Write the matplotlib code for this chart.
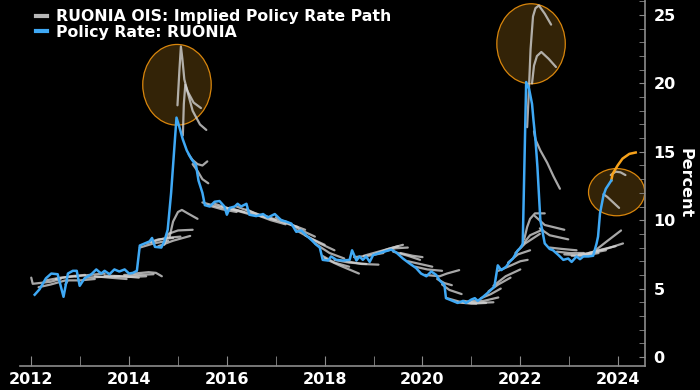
import matplotlib
matplotlib.use("Agg")
import matplotlib.pyplot as plt
from matplotlib.patches import Ellipse
from matplotlib.ticker import MultipleLocator

# Policy rate: RUONIA (decimal years, percent)
policy_year = [
    2012.07, 2012.17, 2012.30, 2012.41, 2012.54, 2012.66, 2012.75, 2012.85, 2012.93, 2012.99,
    2013.09, 2013.23, 2013.33, 2013.43, 2013.50, 2013.60, 2013.70, 2013.80, 2013.91, 2014.00,
    2014.08, 2014.16, 2014.22, 2014.32, 2014.42, 2014.47, 2014.53, 2014.66, 2014.72, 2014.79,
    2014.86, 2014.97, 2015.03, 2015.10, 2015.18, 2015.27, 2015.37, 2015.42, 2015.50, 2015.55,
    2015.65, 2015.75, 2015.85, 2015.95, 2016.00, 2016.06, 2016.16, 2016.22, 2016.29, 2016.40,
    2016.46, 2016.60, 2016.74, 2016.84, 2016.98, 2017.11, 2017.21, 2017.32, 2017.42, 2017.52,
    2017.62, 2017.73, 2017.83, 2017.90, 2017.96, 2018.07, 2018.13, 2018.24, 2018.37, 2018.51,
    2018.56, 2018.65, 2018.71, 2018.78, 2018.85, 2018.92, 2018.99, 2019.12, 2019.26, 2019.36,
    2019.46, 2019.60, 2019.73, 2019.87, 2019.97, 2020.08, 2020.18, 2020.28, 2020.35, 2020.45,
    2020.48, 2020.62, 2020.72, 2020.83, 2020.89, 2021.00, 2021.07, 2021.13, 2021.24, 2021.37,
    2021.47, 2021.54, 2021.61, 2021.71, 2021.78, 2021.85, 2021.95, 2022.02, 2022.05, 2022.12,
    2022.18, 2022.24, 2022.27, 2022.31, 2022.35, 2022.38, 2022.41, 2022.50, 2022.60, 2022.67,
    2022.78, 2022.88, 2022.98, 2023.05, 2023.15, 2023.22, 2023.29, 2023.39, 2023.49, 2023.56,
    2023.59, 2023.63, 2023.70, 2023.75, 2023.86,
]
policy_rate = [
    4.55, 4.95, 5.75, 6.10, 6.05, 4.40, 6.10, 6.30, 6.30, 5.20,
    5.75, 6.05, 6.40, 6.10, 6.30, 6.05, 6.40, 6.25, 6.40, 6.10,
    6.15, 6.30, 8.15, 8.30, 8.45, 8.70, 8.05, 8.00, 8.45, 9.30,
    12.0, 17.5, 16.8, 15.9, 15.1, 14.5, 14.0, 12.9, 12.0, 11.1,
    11.0, 11.35, 11.4, 11.0, 10.4, 10.9, 11.0, 11.2, 11.0, 11.2,
    10.4, 10.3, 10.45, 10.2, 10.45, 10.0, 9.9, 9.75, 9.15, 9.25,
    8.9, 8.55, 8.2, 8.0, 7.1, 7.05, 7.35, 7.1, 7.05, 7.1,
    7.8, 7.05, 7.35, 7.1, 7.35, 6.95, 7.45, 7.6, 7.75, 7.85,
    7.65, 7.2, 6.85, 6.5, 6.1, 5.9, 6.25, 6.0, 5.6, 5.25,
    4.3, 4.1, 3.95, 4.1, 3.95, 4.2, 4.3, 4.1, 4.4, 4.8,
    5.15, 6.7, 6.35, 6.6, 6.95, 7.2, 7.8, 8.05, 8.3, 20.1,
    19.6, 18.5, 17.3, 15.9, 13.9, 12.0, 10.0, 8.3, 7.9, 7.8,
    7.45, 7.1, 7.2, 6.95, 7.35, 7.15, 7.35, 7.35, 7.4, 8.3,
    8.8, 10.5, 11.8, 12.3, 12.9,
]

# latest projected path (orange)
proj_year = [2023.86, 2023.89, 2023.99, 2024.09, 2024.23, 2024.36]
proj_rate = [12.9, 13.4, 14.0, 14.5, 14.85, 14.95]

# RUONIA OIS implied policy rate paths, one list of (year, rate) per snapshot
ois_2012_2014 = [
    [(2012.00, 5.8), (2012.03, 5.35), (2012.40, 5.5), (2012.60, 5.7)],
    [(2012.15, 5.1), (2012.40, 5.3), (2012.70, 5.6)],
    [(2012.30, 5.6), (2012.60, 5.8), (2012.95, 5.9)],
    [(2012.50, 5.7), (2012.80, 5.9), (2013.10, 6.0)],
    [(2012.70, 5.3), (2012.75, 5.6), (2013.00, 5.6), (2013.30, 5.7)],
    [(2012.90, 5.9), (2013.20, 6.0), (2013.50, 6.1)],
    [(2013.10, 5.8), (2013.40, 5.85), (2013.80, 5.9)],
    [(2013.30, 5.9), (2013.60, 5.8), (2013.95, 5.7)],
    [(2013.50, 5.95), (2013.90, 5.9), (2014.20, 5.8)],
    [(2013.70, 5.9), (2014.00, 5.85), (2014.35, 5.9)],
    [(2013.90, 6.0), (2014.20, 6.0), (2014.50, 6.05)],
    [(2014.10, 6.1), (2014.40, 6.2), (2014.55, 6.15), (2014.67, 5.9)],
    [(2014.22, 8.0), (2014.50, 8.3), (2014.80, 8.5)],
    [(2014.35, 8.3), (2014.60, 8.6), (2014.90, 8.7)],
    [(2014.45, 8.4), (2014.75, 8.7), (2015.05, 8.8)],
    [(2014.60, 8.1), (2014.90, 8.5), (2015.25, 8.85)],
    [(2014.72, 8.2), (2014.80, 9.0), (2015.00, 9.25), (2015.30, 9.3)],
    [(2014.83, 8.8), (2014.90, 9.9), (2015.00, 10.6), (2015.08, 10.75),
     (2015.20, 10.5), (2015.40, 10.1)],
]
ois_2015_2018 = [
    [(2014.99, 18.4), (2015.03, 21.0), (2015.06, 22.7), (2015.09, 21.8), (2015.13, 20.3),
     (2015.18, 19.6), (2015.30, 18.0), (2015.45, 17.0), (2015.58, 16.6)],
    [(2015.10, 16.2), (2015.12, 18.5), (2015.15, 19.9), (2015.20, 19.4), (2015.32, 18.6),
     (2015.47, 18.2)],
    [(2015.22, 14.8), (2015.30, 14.4), (2015.40, 14.1), (2015.50, 14.0), (2015.60, 14.3)],
    [(2015.30, 14.1), (2015.40, 13.6), (2015.50, 13.0), (2015.62, 12.7)],
    [(2015.50, 11.3), (2015.80, 11.0), (2016.10, 10.8)],
    [(2015.60, 11.1), (2015.90, 10.8), (2016.20, 10.6)],
    [(2015.75, 11.2), (2016.00, 10.9), (2016.35, 10.6)],
    [(2015.90, 11.0), (2016.20, 10.7), (2016.50, 10.4)],
    [(2016.05, 10.9), (2016.35, 10.6), (2016.70, 10.3)],
    [(2016.20, 11.0), (2016.50, 10.6), (2016.85, 10.2)],
    [(2016.40, 10.8), (2016.70, 10.3), (2017.00, 10.0)],
    [(2016.60, 10.4), (2016.90, 10.0), (2017.20, 9.7)],
    [(2016.80, 10.3), (2017.10, 9.9), (2017.45, 9.5)],
    [(2017.00, 10.2), (2017.30, 9.7), (2017.60, 9.3)],
    [(2017.20, 9.9), (2017.50, 9.3), (2017.80, 8.8)],
    [(2017.40, 9.3), (2017.70, 8.7), (2018.00, 8.2)],
    [(2017.60, 8.9), (2017.90, 8.3), (2018.20, 7.8)],
    [(2017.80, 8.3), (2018.10, 7.6), (2018.40, 7.2)],
    [(2017.95, 7.4), (2018.20, 6.9), (2018.50, 6.6)],
    [(2018.00, 7.2), (2018.30, 6.7), (2018.70, 6.1)],
    [(2018.20, 7.1), (2018.50, 6.9), (2018.85, 6.8)],
]
ois_2018_2021 = [
    [(2018.45, 7.0), (2018.75, 6.8), (2019.10, 6.75)],
    [(2018.60, 7.3), (2018.90, 7.4), (2019.20, 7.6)],
    [(2018.80, 7.4), (2019.10, 7.7), (2019.50, 8.1)],
    [(2019.00, 7.5), (2019.30, 7.9), (2019.60, 8.2)],
    [(2019.20, 7.7), (2019.45, 7.95), (2019.70, 8.0)],
    [(2019.40, 7.7), (2019.70, 7.4), (2019.95, 7.1)],
    [(2019.55, 7.6), (2019.80, 7.4), (2020.00, 7.3)],
    [(2019.70, 7.0), (2019.95, 6.8), (2020.20, 6.6)],
    [(2019.85, 6.6), (2020.10, 6.4), (2020.40, 6.3)],
    [(2020.05, 6.0), (2020.35, 5.9), (2020.50, 6.1), (2020.75, 6.35)],
    [(2020.30, 5.7), (2020.45, 5.4), (2020.60, 5.25)],
    [(2020.40, 5.3), (2020.55, 4.9), (2020.80, 4.6)],
    [(2020.50, 4.3), (2020.80, 4.0), (2021.10, 3.9)],
    [(2020.70, 4.0), (2021.00, 3.9), (2021.30, 3.95)],
    [(2020.85, 4.1), (2021.10, 3.95), (2021.45, 4.0)],
    [(2021.00, 4.1), (2021.25, 4.1), (2021.55, 4.35)],
    [(2021.20, 4.3), (2021.40, 4.6), (2021.60, 5.0)],
    [(2021.35, 4.8), (2021.55, 5.3), (2021.80, 5.8)],
    [(2021.45, 5.2), (2021.70, 5.9), (2022.00, 6.4)],
    [(2021.55, 6.3), (2021.75, 6.6), (2022.00, 7.0), (2022.15, 7.1)],
]
ois_2021_2024 = [
    [(2021.75, 6.9), (2021.95, 7.5), (2022.20, 7.8)],
    [(2021.90, 7.6), (2022.10, 8.3), (2022.40, 9.0)],
    [(2022.00, 8.0), (2022.20, 8.9), (2022.45, 9.3)],
    [(2022.08, 8.6), (2022.14, 9.5), (2022.20, 10.1), (2022.30, 10.5), (2022.50, 10.5)],
    [(2022.14, 16.8), (2022.17, 19.0), (2022.21, 22.5), (2022.26, 24.9), (2022.31, 25.5),
     (2022.38, 25.7), (2022.50, 25.1), (2022.63, 24.3)],
    [(2022.24, 20.0), (2022.28, 21.3), (2022.34, 22.0), (2022.43, 22.3), (2022.58, 21.8),
     (2022.73, 21.2)],
    [(2022.28, 16.5), (2022.31, 15.9), (2022.41, 15.1), (2022.55, 14.2), (2022.68, 13.2),
     (2022.81, 12.3)],
    [(2022.30, 10.3), (2022.50, 9.65), (2022.90, 9.3)],
    [(2022.40, 9.4), (2022.60, 8.9), (2022.98, 8.6)],
    [(2022.60, 8.0), (2022.85, 7.9), (2023.15, 7.8)],
    [(2022.75, 7.7), (2023.00, 7.6), (2023.30, 7.6)],
    [(2022.90, 7.5), (2023.15, 7.45), (2023.45, 7.5)],
    [(2023.05, 7.4), (2023.30, 7.4), (2023.60, 7.6)],
    [(2023.20, 7.5), (2023.45, 7.6), (2023.75, 7.8)],
    [(2023.30, 7.5), (2023.60, 7.8), (2023.95, 8.1)],
    [(2023.40, 7.6), (2023.75, 7.9), (2024.10, 8.3)],
    [(2023.50, 7.7), (2023.75, 8.4), (2024.06, 9.25)],
    [(2023.70, 11.9), (2023.78, 11.7), (2023.90, 11.3), (2024.02, 10.9)],
    [(2023.85, 13.3), (2023.95, 13.55), (2024.05, 13.5), (2024.15, 13.3)],
]

# highlighted episodes: (centre year, centre rate, width yrs, height pct)
highlights = [
    (2014.98, 19.9, 1.40, 5.9),
    (2022.22, 22.9, 1.40, 5.85),
    (2023.97, 12.05, 1.15, 3.45),
]

GRAY = "#d2d2d2"
BLUE = "#3fa9f5"
ORANGE = "#f7a21b"
AXIS = "#8c8c8c"

plt.rcParams["font.family"] = ["DejaVu Sans"]
fig = plt.figure(figsize=(7, 3.9), dpi=100, facecolor="black")
ax = fig.add_axes([20 / 700, 24 / 390, 625 / 700, 366 / 390], facecolor="black")

for cx, cy, w, h in highlights:
    ax.add_patch(Ellipse((cx, cy), w, h, facecolor="#f5a623", alpha=0.21,
                         edgecolor="none", zorder=1))
    ax.add_patch(Ellipse((cx, cy), w, h, facecolor="none", edgecolor="#d9860c",
                         lw=0.9, zorder=1.1))

for group in (ois_2012_2014, ois_2015_2018, ois_2018_2021, ois_2021_2024):
    for path in group:
        xs = [p[0] for p in path]
        ys = [p[1] for p in path]
        ax.plot(xs, ys, color=GRAY, lw=1.6, alpha=0.8, zorder=2,
                solid_capstyle="round")

ax.plot(proj_year, proj_rate, color=ORANGE, lw=1.8, zorder=3)
ax.plot(policy_year, policy_rate, color=BLUE, lw=1.8, zorder=4)

ax.set_xlim(2011.77, 2024.55)
ax.set_ylim(-0.66, 26.1)

ax.xaxis.set_major_locator(MultipleLocator(2))
ax.xaxis.set_minor_locator(MultipleLocator(1))
ax.yaxis.set_major_locator(MultipleLocator(5))
ax.yaxis.set_minor_locator(MultipleLocator(1))
ax.yaxis.tick_right()
ax.yaxis.set_label_position("right")

for s in ("top", "left"):
    ax.spines[s].set_visible(False)
for s in ("bottom", "right"):
    ax.spines[s].set_color(AXIS)
    ax.spines[s].set_linewidth(1.2)

ax.tick_params(axis="x", which="both", direction="in", length=7, color=AXIS,
               labelcolor="white", labelsize=11.5, pad=4)
ax.tick_params(axis="y", which="both", direction="in", length=4, color=AXIS,
               labelcolor="white", labelsize=11.5, pad=6)
for lab in ax.get_xticklabels() + ax.get_yticklabels():
    lab.set_fontweight("bold")

ax.set_ylabel("Percent", color="white", fontsize=11.5, fontweight="bold",
              rotation=270, labelpad=12)

h1, = ax.plot([], [], color="#b8b8b8", lw=3)
h2, = ax.plot([], [], color=BLUE, lw=3)
leg = ax.legend([h1, h2], ["RUONIA OIS: Implied Policy Rate Path", "Policy Rate: RUONIA"],
                loc="upper left", bbox_to_anchor=(36 / 700, 1 - 9 / 390),
                bbox_transform=fig.transFigure, frameon=False,
                handlelength=0.7, handletextpad=0.6, labelspacing=0.05,
                borderpad=0, borderaxespad=0,
                prop={"size": 11.3, "weight": "bold"})
for t in leg.get_texts():
    t.set_color("white")

fig.savefig("out.png", dpi=100, facecolor="black")
